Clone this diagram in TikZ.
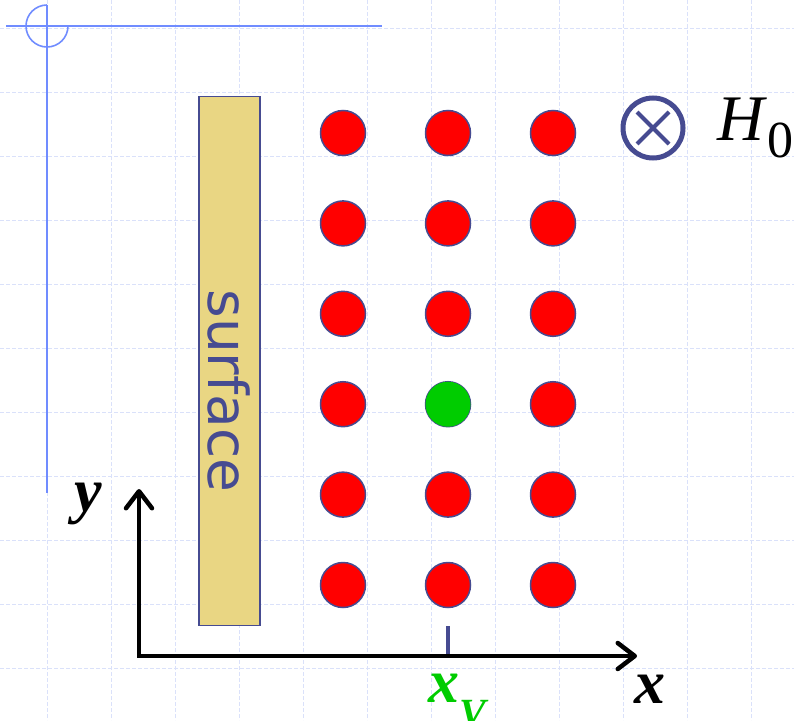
\documentclass[tikz,border=0pt]{standalone}
\usepackage{fontspec}
\setmainfont{Liberation Serif}
\newfontfamily\surffont{DejaVu Sans}
\usetikzlibrary{arrows.meta}
\definecolor{slateblue}{RGB}{70,75,145}
\definecolor{sandfill}{RGB}{233,214,131}
\definecolor{gridblue}{RGB}{218,225,250}
\definecolor{decoblue}{RGB}{112,140,255}
\definecolor{sitegreen}{RGB}{0,204,0}
\begin{document}
\begin{tikzpicture}[x=1pt,y=-1pt,
  gridline/.style={draw=gridblue,line width=1pt,dash pattern=on 4pt off 2pt},
  site/.style={circle,draw=slateblue,line width=1.5pt,fill=red,minimum size=45,inner sep=0pt},
  axis/.style={line width=4.5pt,{Straight Barb[round,length=17pt,width=26pt]}-{Straight Barb[round,length=17pt,width=26pt]}},
  axlabel/.style={inner sep=0pt,font=\fontsize{62}{62}\selectfont\bfseries\itshape}]
\useasboundingbox (0,0) rectangle (794,720);
% slide grid
\foreach \gx in {47,111,...,751} \draw[gridline] (\gx,0) -- (\gx,720);
\foreach \gy in {28,92,...,668} \draw[gridline] (0,\gy) -- (794,\gy);
% corner mark
\draw[decoblue,line width=1.6pt] (6,26) -- (382,26) (47,5) -- (47,493);
\draw[decoblue,line width=1.6pt] (68,26) arc[start angle=0,end angle=270,radius=21];
% surface
\node[draw=slateblue,line width=1.5pt,fill=sandfill,minimum width=61,minimum height=529,inner sep=0pt] (surf) at (229.5,361) {};
\node[rotate=-90,text=slateblue,inner sep=0pt,font=\surffont\fontsize{55}{55}\selectfont] (surflabel) at (229.5,391) {surface};
% lattice sites
\foreach \c [count=\i] in {343,448,553}
  \foreach \r in {0,...,5}
    \node[site] (s\i\r) at (\c,133+90.4*\r) {};
\node[site,draw=none,fill=sitegreen] (vac) at (s23) {};
% field
\node[circle,draw=slateblue,line width=5pt,minimum size=60,inner sep=0pt] (hzero) at (653,128) {};
\draw[slateblue,line width=4pt] ([shift={(-16,-16)}]hzero.center) -- ([shift={(16,16)}]hzero.center);
\draw[slateblue,line width=4pt] ([shift={(-16,16)}]hzero.center) -- ([shift={(16,-16)}]hzero.center);
\node[anchor=base west,inner sep=0pt] (hlabel) at (717,140) {\fontsize{65}{65}\selectfont\textit{H}\raisebox{-17pt}{\fontsize{52}{52}\selectfont 0}};
% axes
\coordinate (origin) at (139,656);
\coordinate (ytip) at (139,489);
\coordinate (xtip) at (637,656);
\draw[axis] (ytip) -- (origin) -- (xtip);
\coordinate (xv) at (448,654);
\draw[slateblue,line width=4pt] (xv) -- ++(0,-28);
\node[axlabel,anchor=base west] (ylabel) at (74,511) {y};
\node[axlabel,anchor=base west] (xlabel) at (634,703) {x};
\node[axlabel,anchor=base west,text=sitegreen] (xvlabel) at (428,702) {x\raisebox{-24pt}{\fontsize{40}{40}\selectfont V}};
\end{tikzpicture}
\end{document}
